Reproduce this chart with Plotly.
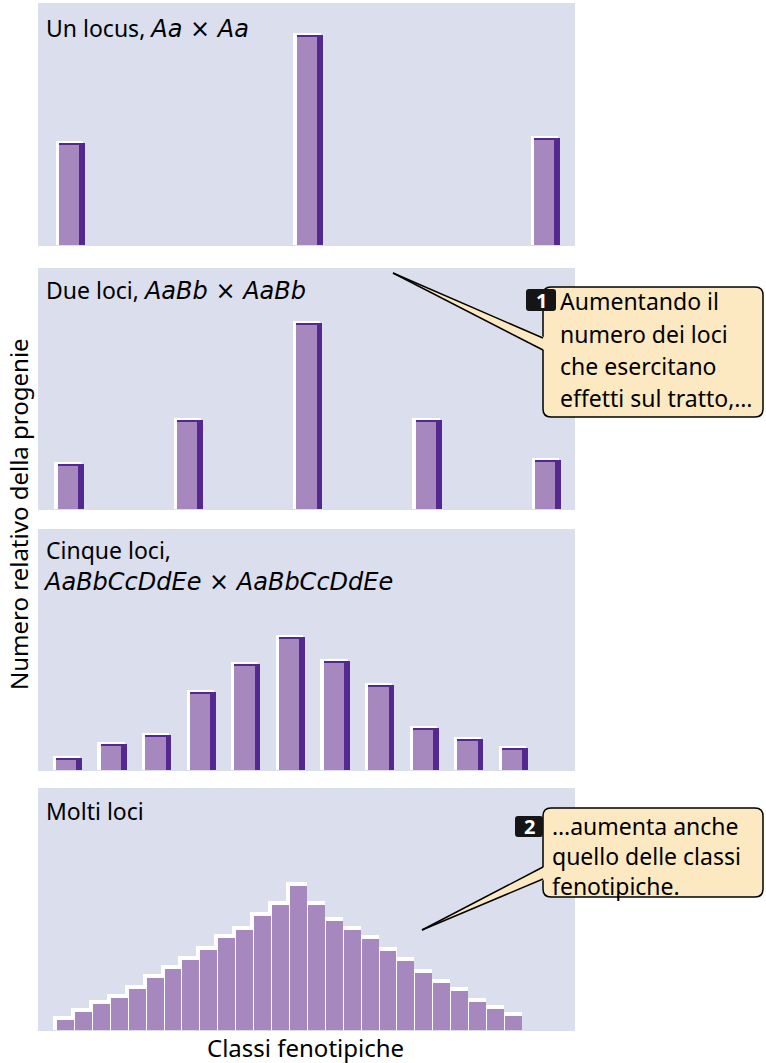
import plotly.graph_objects as go

# ---------------- data (relative number of progeny per phenotypic class) ----------------
one_locus_classes = ["AA", "Aa", "aa"]
one_locus_values = [100, 208, 105]

two_loci_classes = ["0", "1", "2", "3", "4"]
two_loci_values = [43, 87, 184, 87, 47]

five_loci_classes = [str(i) for i in range(11)]
five_loci_values = [10, 24, 33, 76, 104, 131, 107, 83, 40, 29, 20]

many_loci_classes = [str(i) for i in range(26)]
many_loci_values = [10, 18, 26, 32, 41, 52, 61, 70, 80, 92, 100, 114, 125, 144,
                    125, 109, 100, 91, 79, 69, 57, 47, 39, 28, 21, 14]

cross_one = "Aa"
cross_two = "AaBb"
cross_five = "AaBbCcDdEe"
panel_labels = ["Un locus, ", "Due loci, ", "Cinque loci,", "Molti loci"]
y_title = "Numero relativo della progenie"
x_title = "Classi fenotipiche"
callout1_lines = ["Aumentando il", "numero dei loci", "che esercitano", "effetti sul tratto,…"]
callout2_lines = ["…aumenta anche", "quello delle classi", "fenotipiche."]

# ---------------- style ----------------
W, H = 766, 1063
FONT = "Noto Sans"
BG = "#dbdeed"
LIGHT = "#a688bf"
DARK = "#55288f"
CREAM = "#fde9c1"
TS = 23  # text size


def geno(g):
    sp = "font-family:'DejaVu Sans';font-size:24px"
    return f"<span style=\"{sp}\"><i>{g}</i> × <i>{g}</i></span>"


panel_titles = [panel_labels[0] + geno(cross_one), panel_labels[1] + geno(cross_two),
                panel_labels[2], panel_labels[3]]
panel3_subtitle = geno(cross_five)

PX_L, PX_R = 38, 575
panels = [  # top, bottom (px), first center px, spacing px
    (3, 246, 72.0, 237.5),
    (268, 510, 70.5, 119.4),
    (529, 771, 69.0, 44.6),
    (788, 1031, 65.96, 17.92),
]


def px(x):
    return x / W


def py(y):
    return 1 - y / H


fig = go.Figure()

datasets = [
    (one_locus_classes, one_locus_values, "3d"),
    (two_loci_classes, two_loci_values, "3d"),
    (five_loci_classes, five_loci_values, "3d"),
    (many_loci_classes, many_loci_values, "hist"),
]

for k, ((cats, vals, kind), (top, bot, c0, sp)) in enumerate(zip(datasets, panels)):
    ax = "" if k == 0 else str(k + 1)
    xs = list(range(len(cats)))
    u = 1.0 / sp  # data units per px
    if kind == "3d":
        fig.add_trace(go.Bar(x=xs, y=[v + 3.7 for v in vals], width=27.3 * u, offset=-16.3 * u,
                             marker=dict(color="white", line=dict(width=0)),
                             xaxis="x" + ax, yaxis="y" + ax, hoverinfo="skip", showlegend=False))
        fig.add_trace(go.Bar(x=xs, y=[v + 2 for v in vals], width=26 * u, offset=-13 * u,
                             marker=dict(color=DARK, line=dict(width=0)),
                             xaxis="x" + ax, yaxis="y" + ax, hoverinfo="skip", showlegend=False))
        fig.add_trace(go.Bar(x=xs, y=vals, width=20.3 * u, offset=-13 * u,
                             marker=dict(color=LIGHT, line=dict(width=0)),
                             xaxis="x" + ax, yaxis="y" + ax, showlegend=False,
                             customdata=cats, hovertemplate="%{customdata}: %{y}<extra></extra>"))
    else:
        fig.add_trace(go.Bar(x=xs, y=[v + 3.5 for v in vals], width=21 * u, offset=-12.96 * u,
                             marker=dict(color="white", line=dict(width=0)),
                             xaxis="x" + ax, yaxis="y" + ax, hoverinfo="skip", showlegend=False))
        fig.add_trace(go.Bar(x=xs, y=vals, width=16.9 * u, offset=-8.96 * u,
                             marker=dict(color=LIGHT, line=dict(width=0)),
                             xaxis="x" + ax, yaxis="y" + ax, showlegend=False,
                             hovertemplate="%{y}<extra></extra>"))
    xr = [(PX_L - c0) / sp, (PX_R - c0) / sp]
    fig.layout["xaxis" + ax] = dict(domain=[px(PX_L), px(PX_R)], range=xr, visible=False,
                                    anchor="y" + ax, fixedrange=True)
    fig.layout["yaxis" + ax] = dict(domain=[py(bot), py(top)], range=[-1.2, bot - top - 1.2],
                                    visible=False, anchor="x" + ax, fixedrange=True)
    # panel background
    fig.add_shape(type="rect", xref="paper", yref="paper", x0=px(PX_L), x1=px(PX_R),
                  y0=py(bot), y1=py(top), fillcolor=BG, line=dict(width=0), layer="below")

annotations = []
title_pos = [28, 290, 550, 811]
for t, yy in zip(panel_titles, title_pos):
    annotations.append(dict(text=t, x=px(44), y=py(yy), xref="paper", yref="paper",
                            xanchor="left", yanchor="middle", align="left", showarrow=False,
                            font=dict(family=FONT, size=TS, color="black")))
annotations.append(dict(text=panel3_subtitle, x=px(41), y=py(582), xref="paper", yref="paper",
                        xanchor="left", yanchor="middle", align="left", showarrow=False,
                        font=dict(family=FONT, size=TS, color="black")))

annotations.append(dict(text=y_title, x=px(18), y=py(514), xref="paper", yref="paper",
                        textangle=-90, showarrow=False, xanchor="center", yanchor="middle",
                        font=dict(family=FONT, size=24, color="black")))
annotations.append(dict(text=x_title, x=px(305), y=py(1047), xref="paper", yref="paper",
                        showarrow=False, xanchor="center", yanchor="middle",
                        font=dict(family=FONT, size=24, color="black")))


def rounded_rect(x0, y0, x1, y1, r):
    # px coordinates -> paper path
    def P(x, y):
        return f"{px(x)},{py(y)}"
    return (f"M {P(x0 + r, y0)} L {P(x1 - r, y0)} Q {P(x1, y0)} {P(x1, y0 + r)} "
            f"L {P(x1, y1 - r)} Q {P(x1, y1)} {P(x1 - r, y1)} L {P(x0 + r, y1)} "
            f"Q {P(x0, y1)} {P(x0, y1 - r)} L {P(x0, y0 + r)} Q {P(x0, y0)} {P(x0 + r, y0)} Z")


def callout(box, tip, base_y0, base_y1, badge, badge_text):
    x0, y0, x1, y1 = box
    fig.add_shape(type="path", xref="paper", yref="paper", path=rounded_rect(x0, y0, x1, y1, 8),
                  fillcolor=CREAM, line=dict(color="black", width=1.5), layer="above")
    # wedge fill (covers box border at base)
    wedge = (f"M {px(tip[0])},{py(tip[1])} L {px(x0 + 2)},{py(base_y0 - 0.5)} "
             f"L {px(x0 + 2)},{py(base_y1 + 0.5)} Z")
    fig.add_shape(type="path", xref="paper", yref="paper", path=wedge,
                  fillcolor=CREAM, line=dict(width=0), layer="above")
    for by in (base_y0, base_y1):
        fig.add_shape(type="line", xref="paper", yref="paper", x0=px(tip[0]), y0=py(tip[1]),
                      x1=px(x0), y1=py(by), line=dict(color="black", width=1.5), layer="above")
    bx0, by0, bx1, by1 = badge
    fig.add_shape(type="path", xref="paper", yref="paper", path=rounded_rect(bx0, by0, bx1, by1, 3),
                  fillcolor="#151515", line=dict(width=0), layer="above")
    annotations.append(dict(text=f"<b>{badge_text}</b>", x=px((bx0 + bx1) / 2), y=py((by0 + by1) / 2),
                            xref="paper", yref="paper", showarrow=False, xanchor="center",
                            yanchor="middle", font=dict(family=FONT, size=20, color="white")))


callout((543, 287, 763, 417), (393, 273), 338, 350, (526, 289, 556, 311), "1")
for ln, yy in zip(callout1_lines, [301, 334, 366, 398]):
    annotations.append(dict(text=ln, x=px(558), y=py(yy), xref="paper", yref="paper",
                            showarrow=False, xanchor="left", yanchor="middle",
                            font=dict(family=FONT, size=TS, color="black")))

callout((543, 808, 763, 897), (422, 930), 867, 879, (515, 816, 543, 837), "2")
annotations.append(dict(text="<br>".join(callout2_lines), x=px(550), y=py(856), xref="paper",
                        yref="paper", showarrow=False, xanchor="left", yanchor="middle",
                        align="left", font=dict(family=FONT, size=TS, color="black")))

fig.update_layout(width=W, height=H, margin=dict(l=0, r=0, t=0, b=0),
                  paper_bgcolor="white", plot_bgcolor="rgba(0,0,0,0)",
                  barmode="overlay", bargap=0, showlegend=False,
                  annotations=annotations)

fig.write_html("out.html", config={"displayModeBar": False},
               post_script="document.body.style.margin='0';")
